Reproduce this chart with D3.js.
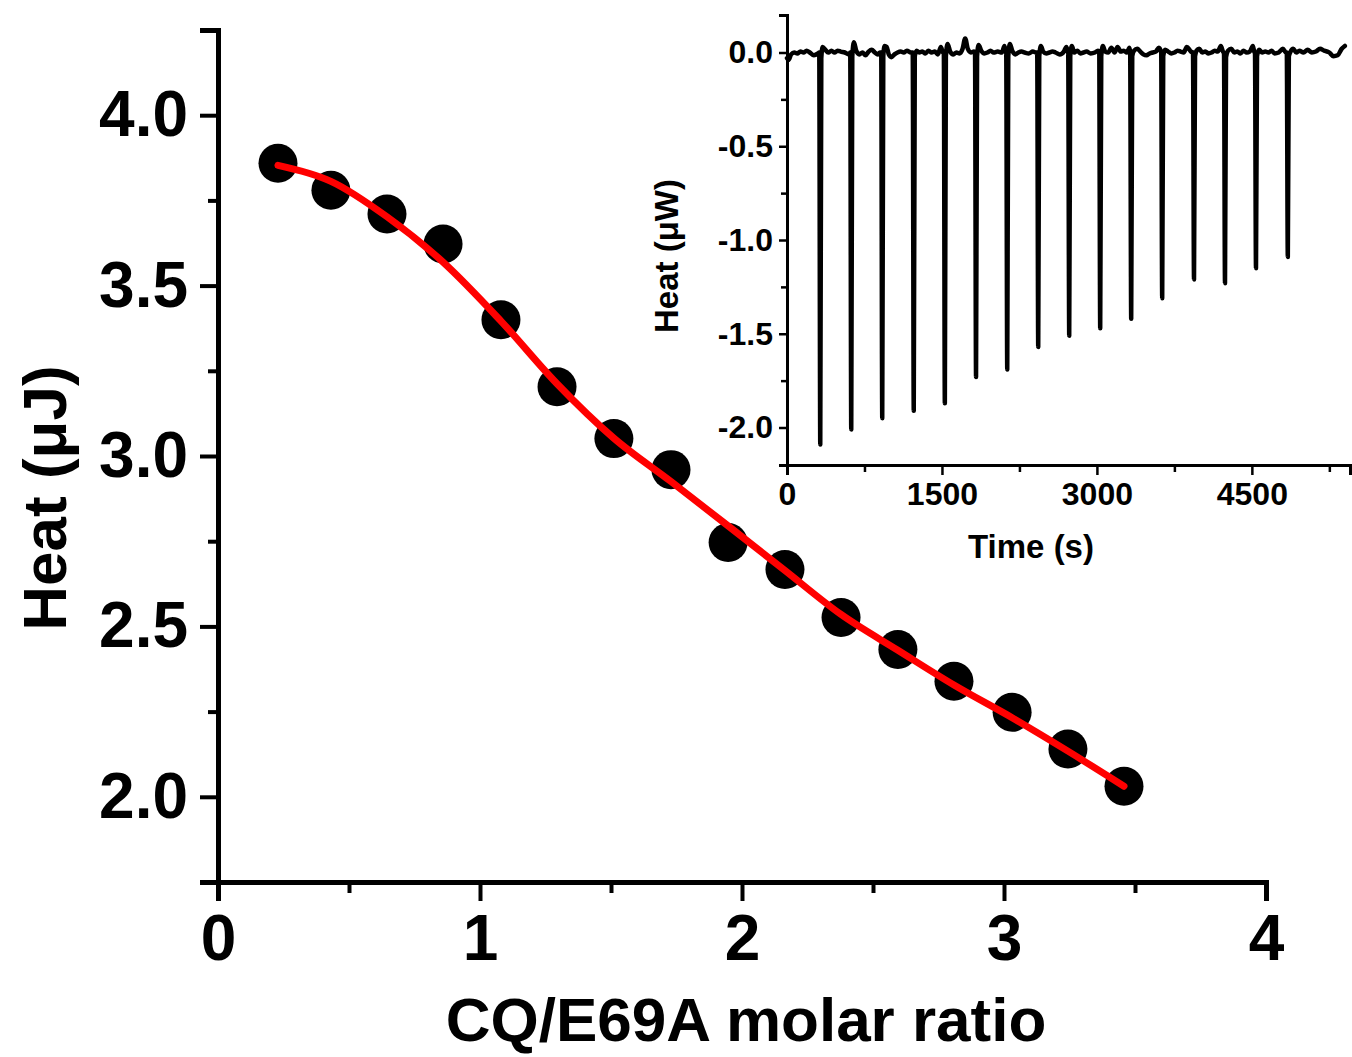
<!DOCTYPE html>
<html>
<head>
<meta charset="utf-8">
<script src="https://cdn.jsdelivr.net/npm/d3@7"></script>
<style>
  body { margin: 0; background: #fff; }
  svg text { font-family: "Liberation Sans", Arial, sans-serif; font-weight: bold; fill: #000; }
</style>
</head>
<body>
<div id="chart"></div>
<script>
// integrated heats per injection (main panel)
var molarRatio = [0.229, 0.431, 0.645, 0.859, 1.080, 1.294, 1.511, 1.729, 1.947, 2.164, 2.378, 2.595, 2.809, 3.031, 3.244, 3.458];
var heatUJ     = [3.859, 3.780, 3.710, 3.622, 3.400, 3.203, 3.051, 2.960, 2.746, 2.667, 2.526, 2.432, 2.339, 2.248, 2.140, 2.031];
// fitted curve at the same ratios
var fitUJ      = [3.853, 3.806, 3.702, 3.569, 3.396, 3.212, 3.052, 2.925, 2.795, 2.664, 2.535, 2.430, 2.328, 2.232, 2.134, 2.031];

var mainXTicks = [0, 1, 2, 3, 4];
var mainYTicks = [2.0, 2.5, 3.0, 3.5, 4.0];

// raw titration trace for the inset: [time (s), heat (uW)]
var rawTrace = [
  [0,-0.03],[15,-0.04],[40,-0.01],[70,0.0],[100,-0.005],[130,0.005],[160,0.0],[190,0.01],[220,0.0],[260,-0.015],[300,-0.005],
  [312,0.0],[322,-2.09],[332,-0.03],[345,0.03],[370,0.015],[400,0.0],[430,0.01],[460,0.0],[490,0.01],[520,0.005],[560,0.0],[600,-0.01],
  [612,0.0],[622,-2.01],[632,-0.02],[648,0.055],[670,0.01],[700,-0.01],[730,0.0],[760,-0.015],[790,0.005],[820,0.015],[850,0.0],[880,-0.01],[900,0.0],
  [912,0.0],[922,-1.95],[932,-0.02],[945,0.035],[965,0.03],[985,-0.01],[1010,-0.025],[1040,-0.01],[1070,0.0],[1100,0.005],[1130,0.0],[1160,0.01],[1200,0.0],
  [1217,0.0],[1227,-1.91],[1237,-0.02],[1255,0.01],[1280,0.0],[1310,0.005],[1340,-0.005],[1370,0.01],[1400,0.0],[1430,0.005],[1460,-0.01],[1490,0.03],[1510,0.0],
  [1518,0.0],[1528,-1.87],[1538,-0.02],[1555,0.045],[1580,0.005],[1610,-0.01],[1640,0.0],[1670,-0.005],[1700,0.02],[1725,0.075],[1750,0.02],[1780,0.0],[1810,0.005],
  [1820,0.0],[1830,-1.73],[1840,-0.02],[1855,0.04],[1880,0.01],[1910,-0.005],[1940,0.0],[1970,0.01],[2000,0.0],[2040,0.005],[2080,0.0],[2105,0.035],[2120,0.0],
  [2122,0.0],[2132,-1.69],[2142,-0.02],[2158,0.045],[2180,0.01],[2210,-0.01],[2240,0.0],[2270,0.005],[2300,0.0],[2340,-0.005],[2380,0.005],[2410,0.0],
  [2422,0.0],[2432,-1.57],[2442,-0.02],[2458,0.035],[2480,0.005],[2510,-0.005],[2540,0.0],[2570,0.005],[2600,0.0],[2640,-0.01],[2680,0.005],[2705,0.03],[2720,0.0],
  [2722,0.0],[2732,-1.51],[2742,-0.02],[2758,0.035],[2780,0.0],[2810,0.01],[2840,-0.005],[2870,0.0],[2900,0.005],[2940,-0.005],[2980,0.0],[3010,0.01],
  [3022,0.0],[3032,-1.47],[3042,-0.02],[3058,0.035],[3080,0.005],[3110,0.0],[3140,0.025],[3170,0.0],[3200,0.03],[3230,0.005],[3260,0.01],[3290,0.0],[3315,0.025],
  [3322,0.0],[3332,-1.42],[3342,-0.02],[3360,0.01],[3390,0.02],[3420,0.005],[3450,-0.01],[3480,-0.015],[3510,-0.005],[3540,0.0],[3570,0.005],[3600,0.025],
  [3622,0.0],[3632,-1.31],[3642,-0.02],[3660,0.015],[3690,0.005],[3720,-0.005],[3750,0.0],[3780,0.01],[3810,0.005],[3840,0.0],[3870,0.03],[3910,0.005],
  [3930,0.0],[3940,-1.21],[3950,-0.02],[3965,0.01],[3990,0.02],[4020,0.0],[4050,0.005],[4080,-0.005],[4110,0.0],[4140,0.01],[4170,0.005],[4200,0.035],[4225,0.0],
  [4230,0.0],[4240,-1.23],[4250,-0.025],[4270,0.01],[4300,0.02],[4330,0.0],[4360,0.005],[4390,-0.005],[4420,0.01],[4450,0.0],[4480,0.005],[4510,0.035],[4525,0.0],
  [4530,0.0],[4540,-1.15],[4550,-0.02],[4570,0.015],[4600,0.0],[4630,0.005],[4660,0.0],[4690,0.01],[4720,-0.005],[4760,0.0],[4800,0.02],[4830,0.0],
  [4838,0.0],[4848,-1.09],[4858,-0.02],[4875,0.005],[4900,0.02],[4930,0.0],[4960,0.01],[5000,0.0],[5040,0.015],[5080,0.0],[5120,0.005],[5160,0.02],
  [5200,0.01],[5250,0.0],[5290,-0.02],[5330,-0.015],[5370,0.02],[5400,0.035]
];
var insetXTicks = [0, 1500, 3000, 4500];
var insetYTicks = [0.0, -0.5, -1.0, -1.5, -2.0];

var W = 1352, H = 1057;

// plain hyphen for negatives, like the original figure
var fmt1 = function(d){ return d.toFixed(1); };

var svg = d3.select("#chart")
  .append("svg")
    .attr("width", W)
    .attr("height", H);

// ---------- main panel ----------
var x = d3.scaleLinear().domain([0, 4]).range([218, 1266]);
var y = d3.scaleLinear().domain([1.75, 4.25]).range([882, 30]);

// minor ticks first, majors drawn on top
var xAxisMinor = svg.append("g")
    .attr("transform", "translate(0,882)")
    .call(d3.axisBottom(x).tickValues(d3.range(0.5, 4, 1)).tickSize(11).tickFormat(""));
var yAxisMinor = svg.append("g")
    .attr("transform", "translate(218,0)")
    .call(d3.axisLeft(y).tickValues([1.75, 2.25, 2.75, 3.25, 3.75, 4.25]).tickSize(10).tickFormat(""));

var xAxis = svg.append("g")
    .attr("transform", "translate(0,882)")
    .call(d3.axisBottom(x).tickValues(mainXTicks).tickSize(19).tickPadding(14).tickFormat(d3.format("d")));
var yAxis = svg.append("g")
    .attr("transform", "translate(218,0)")
    .call(d3.axisLeft(y).tickValues(mainYTicks).tickSize(18).tickPadding(12).tickFormat(fmt1));

[xAxisMinor, yAxisMinor, xAxis, yAxis].forEach(function(g){
  g.select(".domain").attr("stroke-width", 5).attr("stroke", "#000");
  g.selectAll(".tick line").attr("stroke-width", 4).attr("stroke", "#000");
  g.selectAll("text").style("font-size", "64px").attr("fill", "#000");
});

// axis titles
svg.append("text")
    .attr("x", 746)
    .attr("y", 1041)
    .attr("text-anchor", "middle")
    .style("font-size", "62px")
    .text("CQ/E69A molar ratio");
svg.append("text")
    .attr("transform", "translate(66,498) rotate(-90)")
    .attr("text-anchor", "middle")
    .style("font-size", "62px")
    .text("Heat (\u03bcJ)");

// data points
svg.append("g")
  .selectAll("circle")
  .data(molarRatio)
  .enter().append("circle")
    .attr("cx", function(d){ return x(d); })
    .attr("cy", function(d, i){ return y(heatUJ[i]); })
    .attr("r", 19.5)
    .attr("fill", "#000");

// fit line
var fitLine = d3.line()
    .x(function(d){ return x(d); })
    .y(function(d, i){ return y(fitUJ[i]); })
    .curve(d3.curveMonotoneX);
svg.append("path")
    .datum(molarRatio)
    .attr("d", fitLine)
    .attr("fill", "none")
    .attr("stroke", "#ff0000")
    .attr("stroke-width", 7)
    .attr("stroke-linecap", "round")
    .attr("stroke-linejoin", "round");

// ---------- inset ----------
var ix = d3.scaleLinear().domain([0, 5450]).range([787, 1350]);
var iy = d3.scaleLinear().domain([-2.2, 0.2]).range([465, 15]);

var ixMinor = svg.append("g")
    .attr("transform", "translate(0,465)")
    .call(d3.axisBottom(ix).tickValues([750, 2250, 3750, 5250]).tickSize(7).tickFormat(""));
var iyMinor = svg.append("g")
    .attr("transform", "translate(787,0)")
    .call(d3.axisLeft(iy).tickValues([-0.25, -0.75, -1.25, -1.75]).tickSize(6).tickFormat(""));
var ixAxis = svg.append("g")
    .attr("transform", "translate(0,465)")
    .call(d3.axisBottom(ix).tickValues(insetXTicks).tickSize(10).tickPadding(7).tickFormat(d3.format("d")));
var iyAxis = svg.append("g")
    .attr("transform", "translate(787,0)")
    .call(d3.axisLeft(iy).tickValues(insetYTicks).tickSize(8).tickPadding(6).tickFormat(fmt1));

[ixMinor, iyMinor, ixAxis, iyAxis].forEach(function(g){
  g.select(".domain").attr("stroke-width", 3).attr("stroke", "#000");
  g.selectAll(".tick line").attr("stroke-width", 2.5).attr("stroke", "#000");
  g.selectAll("text").style("font-size", "32px").attr("fill", "#000");
});

svg.append("text")
    .attr("x", 1031)
    .attr("y", 558)
    .attr("text-anchor", "middle")
    .style("font-size", "33px")
    .text("Time (s)");
svg.append("text")
    .attr("transform", "translate(678,256) rotate(-90)")
    .attr("text-anchor", "middle")
    .style("font-size", "33px")
    .text("Heat (\u03bcW)");

var traceLine = d3.line()
    .x(function(d){ return ix(d[0]); })
    .y(function(d){ return iy(d[1]); })
    .curve(d3.curveMonotoneX);
svg.append("path")
    .datum(rawTrace)
    .attr("d", traceLine)
    .attr("fill", "none")
    .attr("stroke", "#000")
    .attr("stroke-width", 4.5)
    .attr("stroke-linejoin", "round")
    .attr("stroke-linecap", "round");
</script>
</body>
</html>
